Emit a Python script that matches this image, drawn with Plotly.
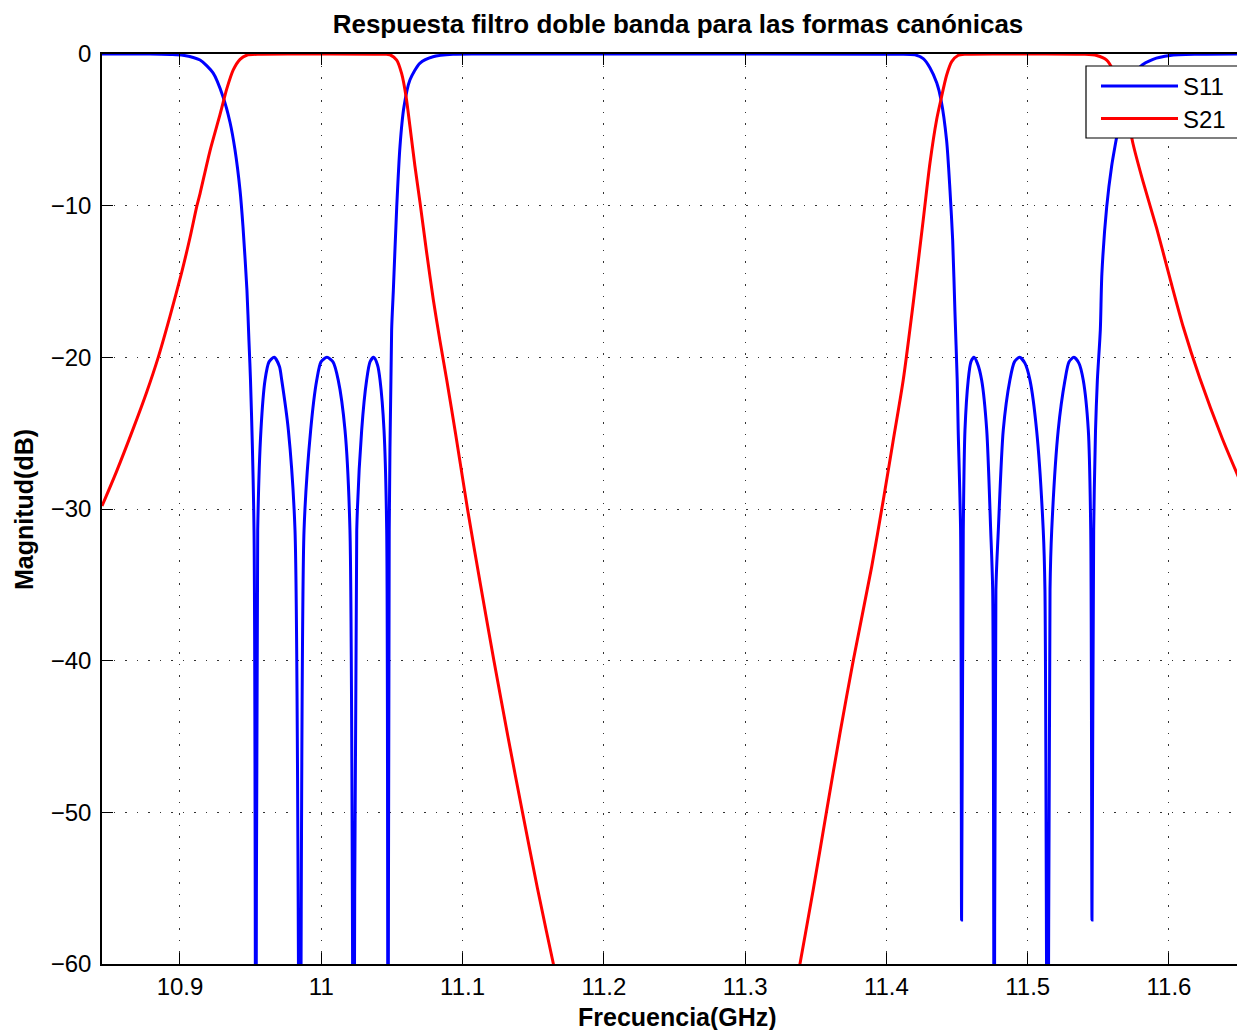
import plotly.graph_objects as go

# ---------------- data ----------------
s11_freq = [10.8448, 10.8788, 10.8929, 10.9021, 10.9142, 10.9234, 10.9304, 10.9354, 10.9389,
            10.9425, 10.9446, 10.9474, 10.9488, 10.9499, 10.9524, 10.9537, 10.9550, 10.9573,
            10.9602, 10.9630, 10.9667, 10.9704, 10.9720, 10.9767, 10.9814, 10.9849, 10.9878,
            10.9925, 10.9968, 10.9998, 11.0040, 11.0083, 11.0120, 11.0168, 11.0203, 11.0230,
            11.0251, 11.0286, 11.0321, 11.0345, 11.0371, 11.0398, 11.0416, 11.0444, 11.0463,
            11.0472, 11.0481, 11.0498, 11.0510, 11.0534, 11.0557, 11.0585, 11.0628, 11.0699,
            11.0791, 11.0932, 11.1123, 11.3954, 11.4096, 11.4202, 11.4261, 11.4308, 11.4356,
            11.4386, 11.4426, 11.4450, 11.4469, 11.4485, 11.4501, 11.4508, 11.4525, 11.4532,
            11.4544, 11.4556, 11.4579, 11.4598, 11.4620, 11.4644, 11.4674, 11.4710, 11.4738,
            11.4752, 11.4763, 11.4775, 11.4792, 11.4827, 11.4874, 11.4906, 11.4943, 11.4981,
            11.5016, 11.5063, 11.5110, 11.5122, 11.5141, 11.5158, 11.5170, 11.5216, 11.5264,
            11.5292, 11.5327, 11.5363, 11.5393, 11.5429, 11.5446, 11.5455, 11.5467, 11.5480,
            11.5493, 11.5514, 11.5525, 11.5559, 11.5594, 11.5629, 11.5653, 11.5674, 11.5731,
            11.5795, 11.5887, 11.6007, 11.6198, 11.6538]
s11_db = [0.0, 0.0, -0.03, -0.08, -0.4, -1.25, -2.8, -4.5, -6.3,
          -9.0, -11.4, -15.6, -18.9, -21.5, -31.4, -80.0, -31.4, -24.8,
          -21.5, -20.3, -20.0, -20.6, -21.5, -24.8, -31.4, -80.0, -31.4,
          -24.8, -21.5, -20.3, -20.0, -20.3, -21.5, -24.8, -31.4, -80.0,
          -31.4, -24.8, -21.5, -20.3, -20.0, -20.5, -21.5, -24.8, -31.4,
          -80.0, -31.4, -18.2, -15.6, -10.1, -6.1, -3.5, -1.7, -0.6,
          -0.18, -0.02, 0.0, -0.01, -0.02, -0.06, -0.3, -0.9, -1.9,
          -3.0, -5.7, -9.0, -12.3, -17.0, -21.5, -24.8, -31.4, -57.1,
          -31.4, -24.8, -21.5, -20.3, -20.0, -20.4, -21.5, -24.8, -31.4,
          -35.3, -80.0, -35.3, -31.4, -24.8, -21.5, -20.3, -20.0, -20.4,
          -21.5, -24.8, -31.4, -35.3, -80.0, -35.3, -31.4, -24.8, -21.5,
          -20.3, -20.0, -20.4, -21.5, -24.8, -31.4, -57.1, -31.4, -24.8,
          -21.5, -18.2, -14.5, -10.1, -7.4, -5.5, -4.2, -3.0, -1.7,
          -0.84, -0.35, -0.1, -0.02, 0.0]

s21_freq = [10.8448, 10.8552, 10.8669, 10.8764, 10.8846, 10.8929, 10.9012, 10.9071, 10.9120,
            10.9142, 10.9212, 10.9283, 10.9311, 10.9331, 10.9377, 10.9425, 10.9472, 10.9566,
            10.9991, 11.0451, 11.0486, 11.0534, 11.0569, 11.0600, 11.0628, 11.0663, 11.0699,
            11.0746, 11.0793, 11.0840, 11.0888, 11.0950, 11.1035, 11.1127, 11.1222, 11.1321,
            11.1424, 11.1530, 11.1643, 11.2000, 11.2500, 11.3000, 11.3388, 11.3482, 11.3577,
            11.3671, 11.3765, 11.3896, 11.3978, 11.4046, 11.4119, 11.4190, 11.4261, 11.4308,
            11.4356, 11.4386, 11.4426, 11.4462, 11.4506, 11.4556, 11.4945, 11.5405, 11.5488,
            11.5559, 11.5603, 11.5639, 11.5674, 11.5710, 11.5745, 11.5816, 11.5913, 11.6007,
            11.6101, 11.6219, 11.6375, 11.6538]
s21_db = [-29.8, -27.5, -24.7, -22.3, -20.0, -17.3, -14.4, -12.1, -10.0,
          -9.2, -6.4, -4.0, -3.0, -2.3, -1.05, -0.35, -0.08, -0.01,
          0.0, -0.02, -0.05, -0.4, -1.3, -2.8, -4.8, -7.4, -9.8,
          -13.1, -16.2, -18.9, -21.5, -25.0, -30.0, -35.0, -40.0, -45.0,
          -50.0, -55.0, -60.0, -75.0, -85.0, -80.0, -60.0, -55.1, -49.9,
          -44.8, -40.0, -33.8, -29.4, -25.6, -21.5, -16.4, -10.9, -7.2,
          -4.3, -3.0, -1.4, -0.5, -0.1, -0.02, 0.0, -0.02, -0.1,
          -0.4, -1.05, -2.0, -3.0, -4.3, -5.9, -8.4, -11.5, -14.8,
          -18.0, -21.4, -25.3, -28.9]

series_names = ["S11", "S21"]
series_colors = ["#0000FF", "#FF0000"]

x_tickvals = [10.9, 11.0, 11.1, 11.2, 11.3, 11.4, 11.5, 11.6]
x_ticktext = ["10.9", "11", "11.1", "11.2", "11.3", "11.4", "11.5", "11.6"]
y_tickvals = [-60, -50, -40, -30, -20, -10, 0]
y_ticktext = ["\u221260", "\u221250", "\u221240", "\u221230", "\u221220", "\u221210", "0"]

title_text = "Respuesta filtro doble banda para las formas canónicas"
x_label = "Frecuencia(GHz)"
y_label = "Magnitud(dB)"

# ---------------- figure ----------------
FONT = "Liberation Sans, Arial, Helvetica, sans-serif"
# the page body has an 8 px margin, so the figure is 8 px smaller than the window
W, H = 1237, 1022
L, T, B = 94, 46, 66
PW = W - L          # plot width (px)
PH = H - T - B      # plot height (px)
OFF = 8             # page offset of the figure


def px_x(sx):
    """screen x (px) -> paper fraction"""
    return (sx - OFF - L) / PW


def px_y(sy):
    """screen y (px) -> paper fraction"""
    return 1 - (sy - OFF - T) / PH


fig = go.Figure()
legends = ["legend", "legend2"]
for fx, fy, name, color, lg in [(s11_freq, s11_db, series_names[0], series_colors[0], legends[0]),
                                (s21_freq, s21_db, series_names[1], series_colors[1], legends[1])]:
    fig.add_trace(go.Scatter(x=fx, y=fy, mode="lines", name=name, legend=lg,
                             line=dict(color=color, width=3, shape="spline", smoothing=0.7)))

axis_common = dict(
    showline=True, linecolor="black", linewidth=1.5,
    ticks="inside", ticklen=11, tickwidth=1, tickcolor="black",
    showgrid=True, gridcolor="#333333", gridwidth=1, griddash="1.5px,10px",
    zeroline=False,
    tickfont=dict(family=FONT, size=24, color="black"),
)

fig.update_xaxes(range=[10.8448, 11.6538], tickmode="array", tickvals=x_tickvals,
                 ticktext=x_ticktext, mirror="ticks", ticklabelstandoff=0, **axis_common)
fig.update_yaxes(range=[-60, 0], tickmode="array", tickvals=y_tickvals,
                 ticktext=y_ticktext, mirror=False, ticklabelstandoff=4, **axis_common)

legend_common = dict(xanchor="left", yanchor="middle", bgcolor="rgba(0,0,0,0)",
                     borderwidth=0, font=dict(family=FONT, size=24, color="black"),
                     itemwidth=77)

fig.update_layout(
    width=W, height=H,
    margin=dict(l=L, r=0, t=T, b=B, pad=0),
    paper_bgcolor="white", plot_bgcolor="white",
    font=dict(family=FONT, color="black"),
    title=dict(text=title_text, x=(678 - OFF) / W, xref="container", xanchor="center",
               y=1 - (24 - OFF) / H, yref="container", yanchor="middle",
               font=dict(family=FONT, size=26, weight="bold", color="black")),
    legend=dict(x=px_x(1096), y=px_y(86.5), **legend_common),
    legend2=dict(x=px_x(1096), y=px_y(119), **legend_common),
    showlegend=True,
    shapes=[dict(type="rect", xref="paper", yref="paper",
                 x0=px_x(1086), x1=px_x(1241), y0=px_y(138), y1=px_y(66),
                 line=dict(color="black", width=1.2), fillcolor="white", layer="above")],
    annotations=[
        dict(text=x_label, xref="paper", yref="paper", x=px_x(677),
             y=px_y(1017), xanchor="center", yanchor="middle", showarrow=False,
             font=dict(family=FONT, size=25, weight="bold", color="black")),
        dict(text=y_label, xref="paper", yref="paper", x=px_x(24), y=px_y(510),
             xanchor="center", yanchor="middle", textangle=-90, showarrow=False,
             font=dict(family=FONT, size=25, weight="bold", color="black")),
    ],
)

fig.write_html("out.html")
